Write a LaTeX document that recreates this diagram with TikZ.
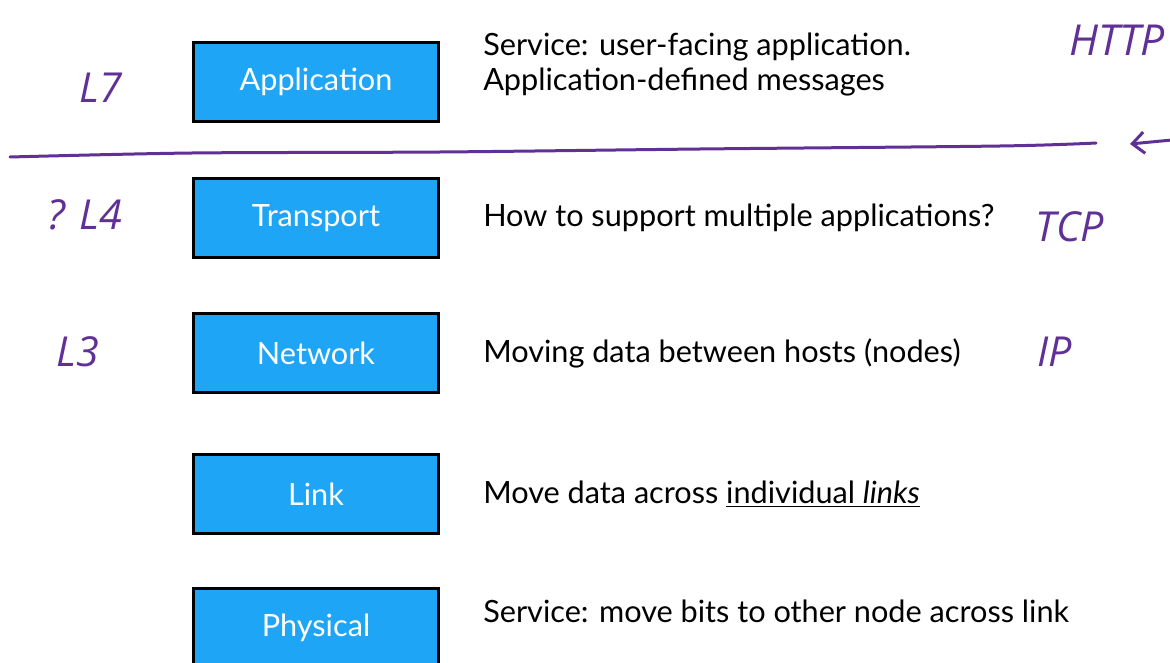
\documentclass[tikz,border=0pt]{standalone}
\usepackage{fontspec}
\setmainfont{Lato}
\newfontfamily\handfont{Open Sans}
\usetikzlibrary{arrows.meta, positioning}
\definecolor{layerblue}{RGB}{31,165,245}
\definecolor{inkpurple}{RGB}{96,48,150}
\tikzset{
  layerbox/.style={
    draw=black, fill=layerblue, line width=2.25pt,
    minimum width=183.75pt, minimum height=59.25pt,
    font=\fontsize{23}{27}\selectfont\color{white}
  },
  layerdesc/.style={
    inner sep=0pt, align=left,
    font=\fontsize{23}{26.25}\selectfont
  },
  inknote/.style={
    font=\handfont\itshape\fontsize{31}{31}\selectfont,
    text=inkpurple
  },
  inkline/.style={
    draw=inkpurple, line width=2.25pt,
    line cap=round, line join=round
  },
  inkarrow/.style={
    -{Straight Barb[length=9pt,width=16pt]},
    draw=inkpurple, line width=2.25pt, line cap=round
  },
}

\begin{document}
\begin{tikzpicture}[x=0.75pt, y=-0.75pt, node distance=40.5pt and 32.25pt]
    \useasboundingbox (0,0) rectangle (1170,663);

    %% Layer stack
    \node[layerbox] (app) at (316,82) {Application};
    \node[layerbox, below=of app] (trans) {Transport};
    \node[layerbox, below=39.75pt of trans] (net) {Network};
    \node[layerbox, below=44.25pt of net] (link) {Link};
    \node[layerbox, below=39pt of link] (phys) {Physical};

    %% What each layer does
    \node[layerdesc, right=of app, yshift=13pt] (appd)
      {Service: user-facing application.\\Application-defined messages};
    \node[layerdesc, right=of trans] (transd)
      {How to support multiple applications?};
    \node[layerdesc, right=of net] (netd)
      {Moving data between hosts (nodes)};
    \node[layerdesc, right=of link] (linkd)
      {Move data across \underline{individual \textit{links}}};
    \node[layerdesc, right=of phys, yshift=12.75pt] (physd)
      {Service: move bits to other node across link};

    %% Ink notes
    \node[inknote] (l7) at (101,88) {L7};
    \node[inknote, font=\handfont\itshape\fontsize{32}{32}\selectfont] (http) at (1117,40) {HTTP};
    \node[inknote] (l4) at (85,215) {? L4};
    \node[inknote] (tcp) at (1070,227) {TCP};
    \node[inknote] (l3) at (78,352) {L3};
    \node[inknote] (ip) at (1055,352) {IP};

    %% App / transport split
    \draw[inkline] plot[smooth] coordinates
      {(10,157) (192,153) (440,152) (700,149) (1000,146) (1096,143)};
    \coordinate (splittail) at (1172,140);
    \coordinate (splittip) at (1130,144);
    \draw[inkarrow] (splittail) -- (splittip);

  \end{tikzpicture}
\end{document}
